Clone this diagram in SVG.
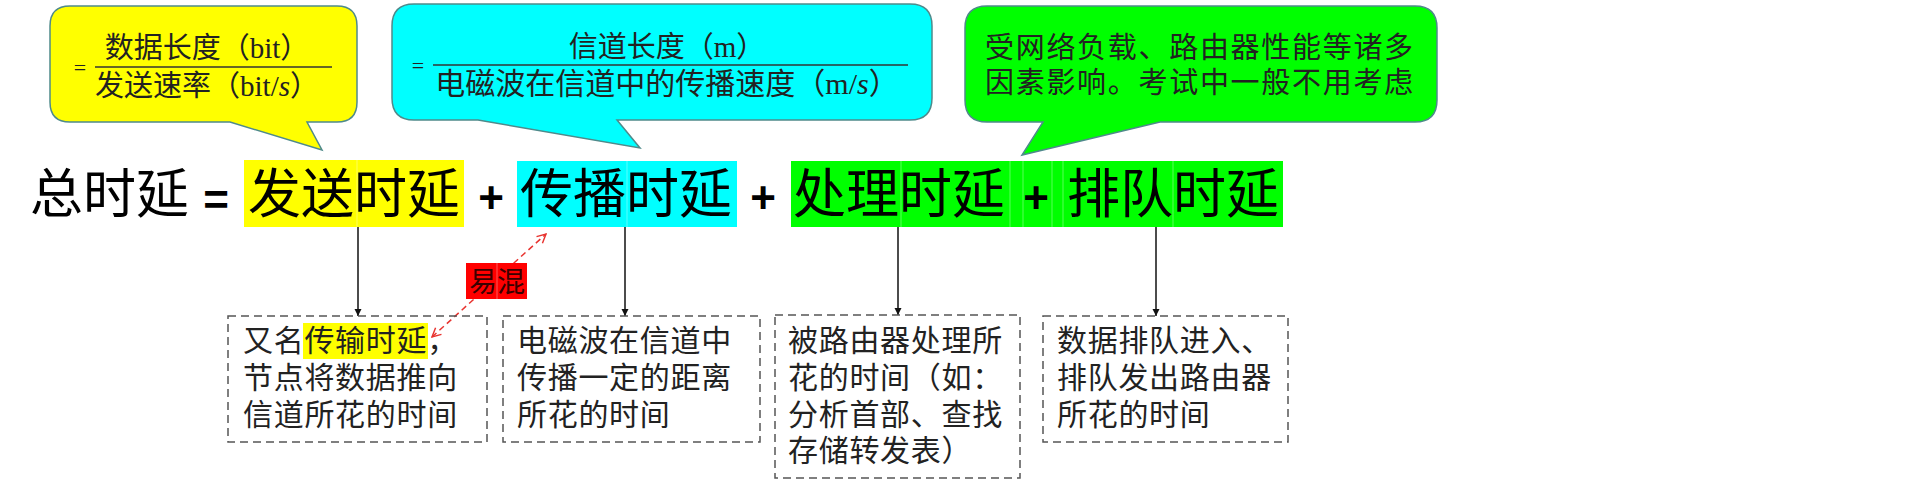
<svg xmlns="http://www.w3.org/2000/svg" width="1913" height="488" viewBox="0 0 1913 488">
<style>
.cjk{font-family:"Noto Sans CJK SC","Noto Sans",sans-serif}
.main{font-size:53px;fill:#000}
.op{font-family:"Liberation Sans",Arial,sans-serif;font-weight:bold;font-size:44px;fill:#000}
.bt{font-size:29px;fill:#222}
.note{font-size:30px;fill:#222;letter-spacing:0.7px}
.ser{font-family:"Liberation Serif","Times New Roman",serif}
.box{fill:none;stroke:#555;stroke-width:1.5;stroke-dasharray:8 5}
.bubble{stroke:#4f8a8b;stroke-width:1.5}
.frac{stroke:#333;stroke-width:1.5}
.seam{stroke:#ffffff;stroke-opacity:0.35;stroke-width:1}
.conn{stroke:#111;stroke-width:1.5;fill:none}
.red{stroke:#e8332f;stroke-width:1.5;fill:none;stroke-dasharray:6 4}
</style>
<defs>
<marker id="ah" viewBox="0 0 10 10" refX="10" refY="5" markerWidth="7" markerHeight="8" markerUnits="userSpaceOnUse" orient="auto"><path d="M0,0 L10,5 L0,10 Z" fill="#111"/></marker>
<marker id="rh" viewBox="0 0 10 10" refX="9" refY="5" markerWidth="11" markerHeight="11" markerUnits="userSpaceOnUse" orient="auto-start-reverse"><path d="M1,1 L9,5 L1,9" fill="none" stroke="#e8332f" stroke-width="1.3"/></marker>
</defs>
<rect width="1913" height="488" fill="#fff"/>

<g id="bubble-send">
<path class="bubble" fill="#ffff00" d="M70,6 H337 Q357,6 357,26 V102 Q357,122 337,122 H307 L322,150 L230,122 H70 Q50,122 50,102 V26 Q50,6 70,6 Z"/>
<text x="80" y="75" text-anchor="middle" class="ser" font-size="22" fill="#222">=</text>
<line class="frac" x1="95" y1="67" x2="332" y2="67"/>
<text x="207" y="58" text-anchor="middle" class="cjk bt">数据长度（<tspan class="ser">bit</tspan>）</text>
<text x="207" y="96" text-anchor="middle" class="cjk bt">发送速率（<tspan class="ser">bit/<tspan font-style="italic">s</tspan></tspan>）</text>
</g>

<g id="bubble-prop">
<path class="bubble" fill="#00ffff" d="M414,4 H910 Q932,4 932,26 V98 Q932,120 910,120 H617 L640,148 L478,120 H414 Q392,120 392,98 V26 Q392,4 414,4 Z"/>
<text x="418" y="73" text-anchor="middle" class="ser" font-size="22" fill="#222">=</text>
<line class="frac" x1="433" y1="65" x2="908" y2="65"/>
<text x="667" y="57" text-anchor="middle" class="cjk bt">信道长度（<tspan class="ser">m</tspan>）</text>
<text x="667" y="94" text-anchor="middle" class="cjk bt" style="font-size:30px">电磁波在信道中的传播速度（<tspan class="ser">m/<tspan font-style="italic">s</tspan></tspan>）</text>
</g>

<g id="bubble-other">
<path class="bubble" fill="#00ff00" d="M987,6 H1415 Q1437,6 1437,28 V100 Q1437,122 1415,122 H1160 L1022,155 L1043,122 H987 Q965,122 965,100 V28 Q965,6 987,6 Z"/>
<text x="985" y="58" class="cjk bt" style="letter-spacing:1.7px">受网络负载、路由器性能等诸多</text>
<text x="985" y="93" class="cjk bt" style="letter-spacing:1.7px">因素影响。考试中一般不用考虑</text>
</g>

<g id="formula">
<rect x="244" y="160" width="220" height="67" fill="#ffff00"/>
<rect x="517" y="161" width="220" height="66" fill="#00ffff"/>
<rect x="791" y="161" width="492" height="66" fill="#00ff00"/>
<line class="seam" x1="357" y1="160" x2="357" y2="227"/>
<line class="seam" x1="627" y1="161" x2="627" y2="227"/>
<line class="seam" x1="901" y1="161" x2="901" y2="227"/>
<line class="seam" x1="1010" y1="161" x2="1010" y2="227"/>
<line class="seam" x1="1023" y1="161" x2="1023" y2="227"/>
<line class="seam" x1="1052" y1="161" x2="1052" y2="227"/>
<line class="seam" x1="1063" y1="161" x2="1063" y2="227"/>
<line class="seam" x1="1173" y1="161" x2="1173" y2="227"/>
<text x="30" y="213" class="cjk main">总时延</text>
<text x="216" y="215" text-anchor="middle" class="op">=</text>
<text x="248" y="213" class="cjk main">发送时延</text>
<text x="491" y="213" text-anchor="middle" class="op">+</text>
<text x="520" y="213" class="cjk main">传播时延</text>
<text x="763" y="213" text-anchor="middle" class="op">+</text>
<text x="793" y="213" class="cjk main">处理时延</text>
<text x="1036" y="213" text-anchor="middle" class="op">+</text>
<text x="1067" y="213" class="cjk main">排队时延</text>
</g>

<g id="connectors">
<line class="conn" x1="358" y1="227" x2="358" y2="316" marker-end="url(#ah)"/>
<line class="conn" x1="625" y1="227" x2="625" y2="316" marker-end="url(#ah)"/>
<line class="conn" x1="898" y1="227" x2="898" y2="315" marker-end="url(#ah)"/>
<line class="conn" x1="1156" y1="227" x2="1156" y2="316" marker-end="url(#ah)"/>
<line class="red" x1="432" y1="337" x2="546" y2="234" marker-start="url(#rh)" marker-end="url(#rh)"/>
</g>

<g id="confuse-tag">
<rect x="466" y="263" width="61" height="36" fill="#ff0000"/>
<line class="seam" x1="497" y1="263" x2="497" y2="299"/>
<text x="469" y="292" class="cjk" font-size="28" fill="#3a0000">易混</text>
</g>

<g id="note-send">
<rect class="box" x="228" y="316" width="259" height="126"/>
<rect x="303" y="323" width="125" height="36" fill="#ffff00"/>
<text x="243" y="351" class="cjk note">又名传输时延，</text>
<text x="243" y="388" class="cjk note">节点将数据推向</text>
<text x="243" y="425" class="cjk note">信道所花的时间</text>
</g>

<g id="note-prop">
<rect class="box" x="503" y="316" width="257" height="126"/>
<text x="517" y="351" class="cjk note">电磁波在信道中</text>
<text x="517" y="388" class="cjk note">传播一定的距离</text>
<text x="517" y="425" class="cjk note">所花的时间</text>
</g>

<g id="note-proc">
<rect class="box" x="775" y="315" width="245" height="163"/>
<text x="788" y="351" class="cjk note">被路由器处理所</text>
<text x="788" y="388" class="cjk note">花的时间（如：</text>
<text x="788" y="425" class="cjk note">分析首部、查找</text>
<text x="788" y="461" class="cjk note">存储转发表）</text>
</g>

<g id="note-queue">
<rect class="box" x="1043" y="316" width="245" height="126"/>
<text x="1057" y="351" class="cjk note">数据排队进入、</text>
<text x="1057" y="388" class="cjk note">排队发出路由器</text>
<text x="1057" y="425" class="cjk note">所花的时间</text>
</g>
</svg>
